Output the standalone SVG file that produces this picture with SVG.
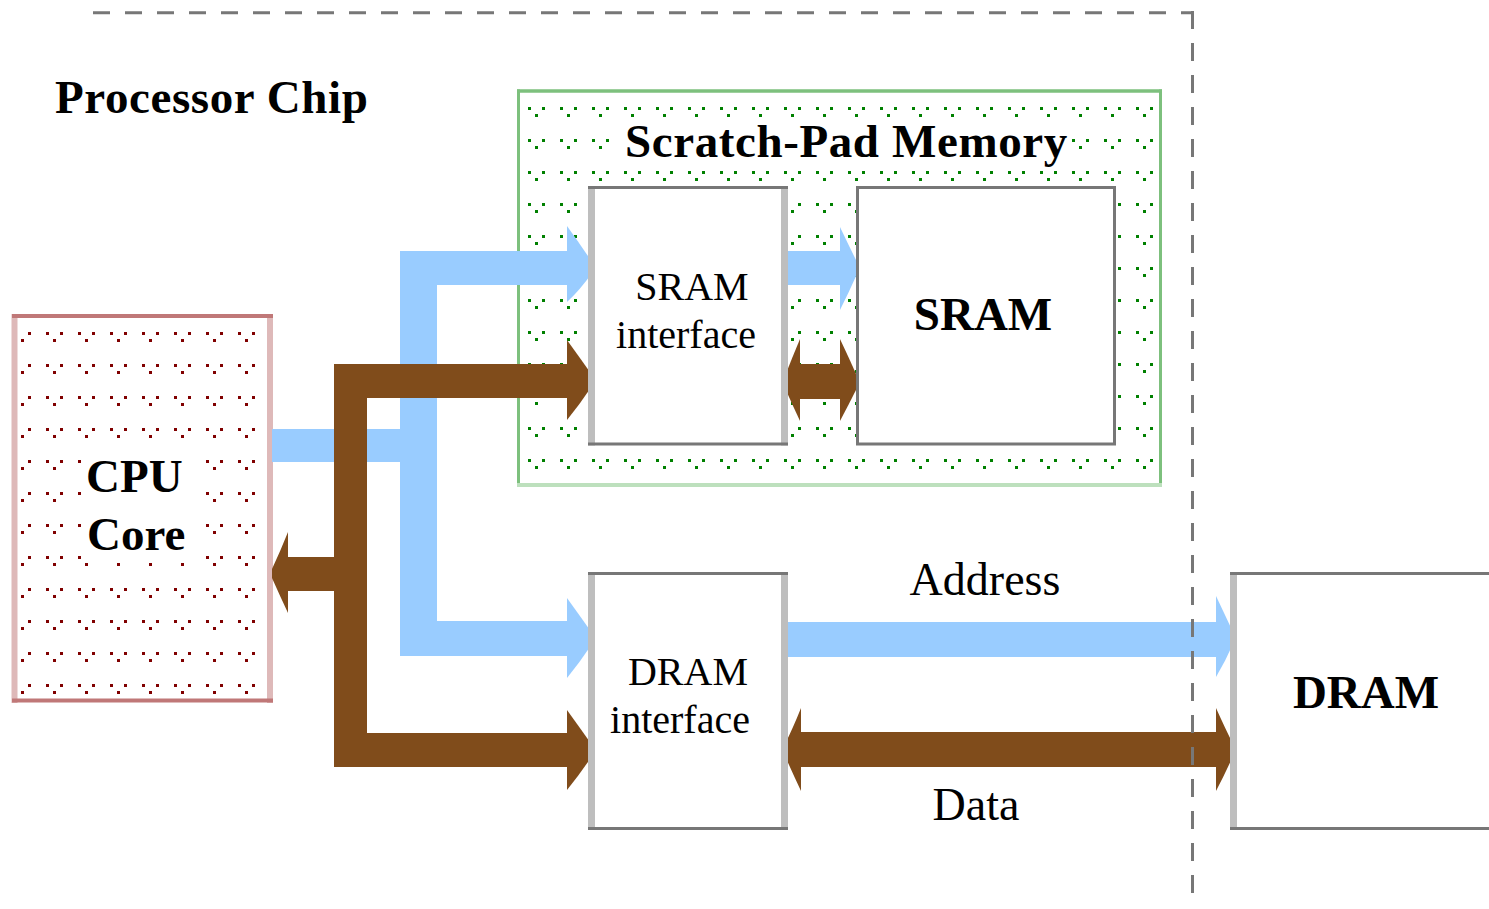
<svg xmlns="http://www.w3.org/2000/svg" width="1489" height="909" viewBox="0 0 1489 909">
  <style>
    .bold { font-family: "Liberation Serif", "Times New Roman", serif; font-weight: bold; font-size: 47px; fill: #000; }
    .wide { letter-spacing: 0.6px; }
    .reg { font-family: "Liberation Serif", "Times New Roman", serif; font-size: 40px; fill: #000; }
    .lbl { font-family: "Liberation Serif", "Times New Roman", serif; font-size: 46px; fill: #000; }
    .blue { fill: #99ccff; }
    .brown { fill: #804c1b; }
    .side { stroke: #bebebe; stroke-width: 7; fill: none; }
    .edge { stroke: #777777; stroke-width: 3; fill: none; }
    .dash { stroke: #777777; stroke-width: 3; fill: none; }
    .dot { shape-rendering: crispEdges; }
  </style>
  <defs>
    <pattern id="redDots" patternUnits="userSpaceOnUse" x="14" y="332" width="32" height="32">
      <rect class="dot" x="0" y="0" width="3" height="3" fill="#800000"/>
      <rect class="dot" x="14" y="0" width="3" height="3" fill="#800000"/>
      <rect class="dot" x="7" y="7" width="3" height="3" fill="#800000"/>
    </pattern>
    <pattern id="greenDots" patternUnits="userSpaceOnUse" x="528" y="107" width="32" height="32">
      <rect class="dot" x="0" y="0" width="3" height="3" fill="#008000"/>
      <rect class="dot" x="14" y="0" width="3" height="3" fill="#008000"/>
      <rect class="dot" x="7" y="7" width="3" height="3" fill="#008000"/>
    </pattern>
  </defs>

  <rect width="1489" height="909" fill="#ffffff"/>

  <!-- Scratch-Pad Memory container -->
  <g id="scratch-pad">
    <rect x="518.5" y="91" width="642" height="394" fill="#ffffff"/>
    <rect x="518.5" y="91" width="642" height="394" fill="url(#greenDots)"/>
    <rect x="611" y="119" width="461" height="51" fill="#ffffff"/>
    <line x1="518.5" y1="89.5" x2="518.5" y2="487" stroke="#7dc07d" stroke-width="3"/>
    <line x1="1160.5" y1="89.5" x2="1160.5" y2="487" stroke="#7dc07d" stroke-width="3"/>
    <line x1="517" y1="91" x2="1162" y2="91" stroke="#7dc07d" stroke-width="3.5"/>
    <line x1="517" y1="485" x2="1162" y2="485" stroke="#bde0bd" stroke-width="4"/>
    <text class="bold wide" x="625" y="157">Scratch-Pad Memory</text>
  </g>

  <!-- CPU Core -->
  <g id="cpu-core">
    <rect x="14.5" y="316" width="255.5" height="384.5" fill="#ffffff"/>
    <rect x="14.5" y="316" width="255.5" height="384.5" fill="url(#redDots)"/>
    <rect x="84" y="450" width="116" height="112" fill="#ffffff"/>
    <line x1="14.5" y1="314" x2="14.5" y2="703" stroke="#deb9b9" stroke-width="6"/>
    <line x1="270" y1="314" x2="270" y2="703" stroke="#deb9b9" stroke-width="6"/>
    <line x1="12" y1="316" x2="273" y2="316" stroke="#c07878" stroke-width="4"/>
    <line x1="12" y1="700.5" x2="273" y2="700.5" stroke="#c07878" stroke-width="4"/>
    <text class="bold" x="86" y="492">CPU</text>
    <text class="bold" x="87" y="550">Core</text>
  </g>

  <!-- Connectors -->
  <g id="connectors">
    <!-- address (blue) -->
    <rect class="blue" x="272" y="429" width="165" height="33"/>
    <rect class="blue" x="400" y="252" width="37" height="404"/>
    <rect class="blue" x="400" y="251" width="168" height="34"/>
    <path class="blue" d="M567,226 Q580,244 592,262 L592,273 Q580,290 567,302 Z"/>
    <rect class="blue" x="400" y="621" width="168" height="35"/>
    <path class="blue" d="M567,598 Q580,616 592,633 L592,644 Q580,662 567,678 Z"/>
    <rect class="blue" x="786" y="251" width="55" height="34"/>
    <path class="blue" d="M840,227 Q849,246 857,262 L857,274 Q849,292 840,310 Z"/>
    <rect class="blue" x="786" y="622" width="431" height="35"/>
    <path class="blue" d="M1216,596 Q1225,615 1233,632 L1233,644 Q1225,662 1216,677 Z"/>

    <!-- data (brown) -->
    <rect class="brown" x="334" y="364" width="33" height="403"/>
    <rect class="brown" x="334" y="364" width="234" height="34"/>
    <path class="brown" d="M567,340 Q580,358 592,375 L592,386 Q580,404 567,420 Z"/>
    <rect class="brown" x="334" y="733" width="234" height="34"/>
    <path class="brown" d="M567,710 Q580,728 592,745 L592,756 Q580,774 567,790 Z"/>
    <rect class="brown" x="287" y="557" width="48" height="34"/>
    <path class="brown" d="M288,532 Q280,552 272,569 L272,578 Q280,596 288,613 Z"/>
    <!-- SRAM interface <-> SRAM -->
    <rect class="brown" x="799" y="364" width="42" height="35"/>
    <path class="brown" d="M800,339 Q792,358 785,376 L785,388 Q792,404 800,421 Z"/>
    <path class="brown" d="M840,339 Q849,358 857,376 L857,388 Q849,404 840,421 Z"/>
    <!-- DRAM interface <-> DRAM -->
    <rect class="brown" x="800" y="732" width="417" height="35"/>
    <path class="brown" d="M801,708 Q793,728 785,744 L785,756 Q793,774 801,791 Z"/>
    <path class="brown" d="M1216,708 Q1225,728 1233,744 L1233,756 Q1225,774 1216,791 Z"/>
  </g>

  <!-- SRAM interface -->
  <g id="sram-interface">
    <rect x="591.5" y="187.5" width="193" height="256.5" fill="#ffffff"/>
    <line class="side" x1="591.5" y1="186" x2="591.5" y2="445.5"/>
    <line class="side" x1="784.5" y1="186" x2="784.5" y2="445.5"/>
    <line class="edge" x1="588" y1="187.5" x2="788" y2="187.5"/>
    <line class="edge" x1="588" y1="444" x2="788" y2="444"/>
    <text class="reg" x="692" y="300" text-anchor="middle">SRAM</text>
    <text class="reg" x="686" y="348" text-anchor="middle">interface</text>
  </g>

  <!-- SRAM -->
  <g id="sram">
    <rect x="857.5" y="187.5" width="257" height="256.5" fill="#ffffff" stroke="#777777" stroke-width="3"/>
    <text class="bold" x="983" y="330" text-anchor="middle">SRAM</text>
  </g>

  <!-- DRAM interface -->
  <g id="dram-interface">
    <rect x="591.5" y="573.5" width="193" height="255" fill="#ffffff"/>
    <line class="side" x1="591.5" y1="572" x2="591.5" y2="830"/>
    <line class="side" x1="784.5" y1="572" x2="784.5" y2="830"/>
    <line class="edge" x1="588" y1="573.5" x2="788" y2="573.5"/>
    <line class="edge" x1="588" y1="828.5" x2="788" y2="828.5"/>
    <text class="reg" x="688" y="685" text-anchor="middle">DRAM</text>
    <text class="reg" x="680" y="733" text-anchor="middle">interface</text>
  </g>

  <!-- DRAM -->
  <g id="dram">
    <rect x="1233.5" y="573.5" width="260" height="255" fill="#ffffff"/>
    <line class="side" x1="1233.5" y1="572" x2="1233.5" y2="830"/>
    <line class="edge" x1="1230" y1="573.5" x2="1489" y2="573.5"/>
    <line class="edge" x1="1230" y1="828.5" x2="1489" y2="828.5"/>
    <text class="bold" x="1366" y="708" text-anchor="middle">DRAM</text>
  </g>

  <!-- Labels on the DRAM bus -->
  <g id="bus-labels">
    <text class="lbl" x="985" y="595" text-anchor="middle">Address</text>
    <text class="lbl" x="976" y="820" text-anchor="middle">Data</text>
  </g>

  <!-- Processor Chip boundary -->
  <g id="processor-chip">
    <line class="dash" x1="93" y1="12.7" x2="1193" y2="12.7" stroke-dasharray="17 15"/>
    <line class="dash" x1="1192.5" y1="11" x2="1192.5" y2="895" stroke-dasharray="18 14"/>
    <text class="bold wide" x="55" y="113">Processor Chip</text>
  </g>
</svg>
